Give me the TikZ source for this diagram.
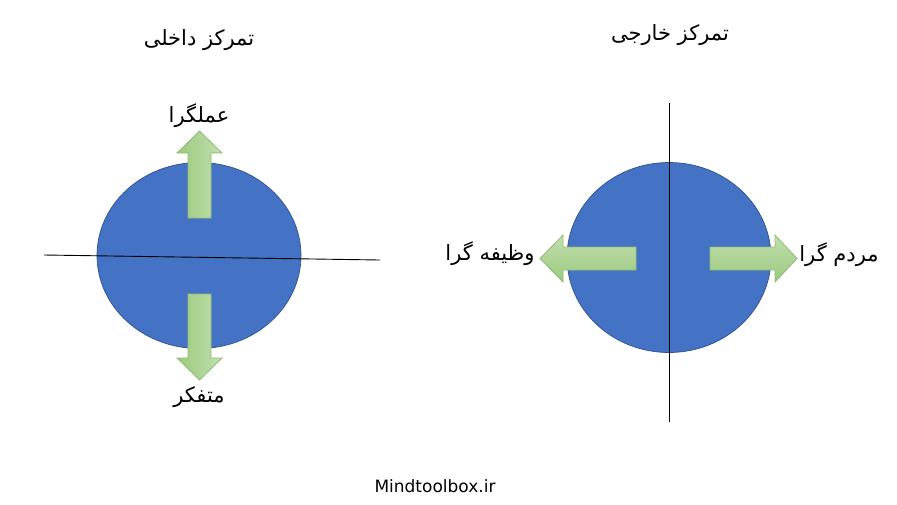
\documentclass[tikz,border=0pt]{standalone}
\usepackage{fontspec}
\setmainfont{DejaVu Sans}
\newfontfamily\arabicfont[Script=Arabic]{DejaVu Sans}
\TeXXeTstate=1
\definecolor{ellfill}{HTML}{4472C4}
\definecolor{elldraw}{HTML}{2F528F}
\definecolor{arrdark}{HTML}{9CC97F}
\definecolor{arrlight}{HTML}{C2DFAE}
\definecolor{arrdraw}{HTML}{8FBE74}
\begin{document}
\begin{tikzpicture}[x=1pt,y=-1pt,
  blob/.style={fill=ellfill,draw=elldraw,line width=0.7pt},
  axisline/.style={draw=black,line width=0.9pt},
  blockarrow/.style={draw=arrdraw,line width=0.8pt,line join=miter},
  lbl/.style={font=\fontsize{17}{20}\selectfont,inner sep=0pt,text=black},
  albl/.style={font=\fontsize{21}{24}\selectfont\arabicfont,inner sep=0pt,text=black}]
\useasboundingbox (0,0) rectangle (897,504);
\fill[white] (0,0) rectangle (897,504);
% left
\draw[blob] (199,255.5) ellipse [x radius=102, y radius=93];
\coordinate (la) at (44,255);
\coordinate (lb) at (380,260);
\draw[axisline] (la) -- (lb);
\path[blockarrow,left color=arrdark,right color=arrlight]
  (188,218) -- (188,153) -- (177,153) -- (199.5,131) -- (222,153) -- (211,153) -- (211,218) -- cycle;
\path[blockarrow,left color=arrdark,right color=arrlight]
  (188,294) -- (188,358) -- (177,358) -- (199.5,380) -- (222,358) -- (211,358) -- (211,294) -- cycle;
\node[albl] (tl) at (199,40) {\beginR تمرکز داخلی\endR};
\node[albl] (up) at (199,116) {\beginR عملگرا\endR};
\node[albl] (dn) at (199,397) {\beginR متفکر\endR};
% right
\draw[blob] (669,257.5) ellipse [x radius=102, y radius=95];
\coordinate (va) at (669,103);
\coordinate (vb) at (669,422);
\draw[axisline] (va) -- (vb);
\path[blockarrow,top color=arrlight,bottom color=arrdark]
  (636,247) -- (563,247) -- (563,235) -- (540,258.5) -- (563,282) -- (563,270) -- (636,270) -- cycle;
\path[blockarrow,top color=arrlight,bottom color=arrdark]
  (710,247) -- (775,247) -- (775,235) -- (797,258.5) -- (775,282) -- (775,270) -- (710,270) -- cycle;
\node[albl] (tr) at (670,35) {\beginR تمرکز خارجی\endR};
\node[albl] (lt) at (490,254) {\beginR وظیفه گرا\endR};
\node[albl] (rt) at (839,255) {\beginR مردم گرا\endR};
\node[lbl] (site) at (435,486) {Mindtoolbox.ir};
\end{tikzpicture}
\end{document}
